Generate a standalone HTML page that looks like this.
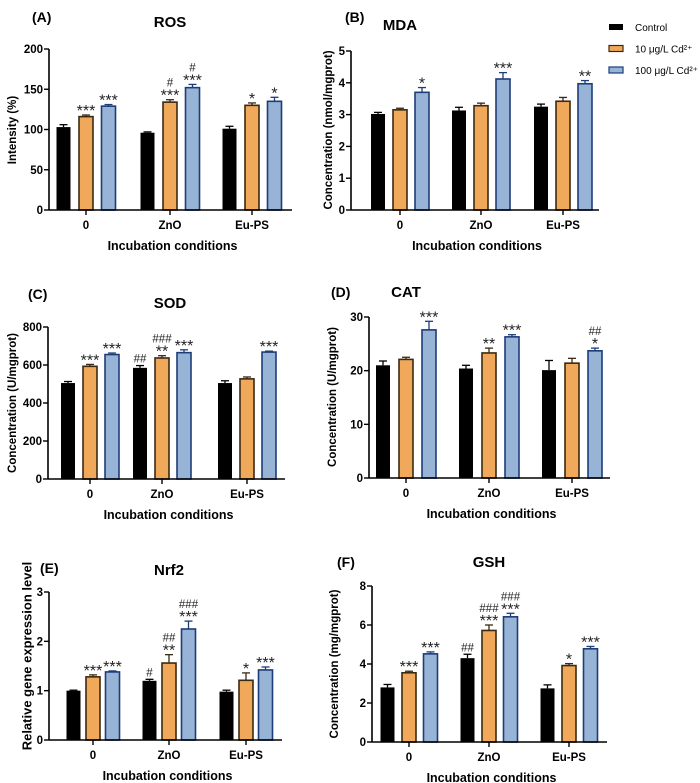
<!DOCTYPE html>
<html><head><meta charset="utf-8"><style>
body{margin:0;background:#fff}
svg{display:block;font-family:"Liberation Sans",Arial,sans-serif}
</style></head><body>
<svg id="fig" width="700" height="783" viewBox="0 0 700 783"></svg>
<script>
const categories=['0','ZnO','Eu-PS'];
const seriesNames=['Control','10 μg/L Cd²⁺','100 μg/L Cd²⁺'];
// A ROS
const rosCtrl=[103,96,101], rosCtrlErr=[3,1,3];
const ros10=[116,134,130], ros10Err=[2,3,3];
const ros100=[129,152,135], ros100Err=[2,4,5];
const rosAnn=[['','',''],['***','#|***','*'],['***','#|***','*']];
// B MDA
const mdaCtrl=[3.02,3.13,3.25], mdaCtrlErr=[0.05,0.1,0.08];
const mda10=[3.15,3.28,3.42], mda10Err=[0.05,0.08,0.12];
const mda100=[3.7,4.12,3.97], mda100Err=[0.15,0.2,0.1];
const mdaAnn=[['','',''],['','',''],['*','***','**']];
// C SOD
const sodCtrl=[505,585,505], sodCtrlErr=[8,12,12];
const sod10=[593,637,527], sod10Err=[10,12,10];
const sod100=[655,665,668], sod100Err=[8,15,5];
const sodAnn=[['','##',''],['***','###|**',''],['***','***','***']];
// D CAT
const catCtrl=[21,20.4,20.1], catCtrlErr=[0.8,0.6,1.8];
const cat10=[22.1,23.3,21.4], cat10Err=[0.4,0.9,0.9];
const cat100=[27.6,26.3,23.7], cat100Err=[1.6,0.4,0.5];
const catAnn=[['','',''],['','**',''],['***','***','##|*']];
// E Nrf2
const nrfCtrl=[1.0,1.2,0.98], nrfCtrlErr=[0.01,0.03,0.03];
const nrf10=[1.28,1.56,1.21], nrf10Err=[0.04,0.17,0.15];
const nrf100=[1.38,2.25,1.42], nrf100Err=[0.02,0.16,0.06];
const nrfAnn=[['','#',''],['***','##|**','*'],['***','###|***','***']];
// F GSH
const gshCtrl=[2.8,4.3,2.75], gshCtrlErr=[0.15,0.2,0.18];
const gsh10=[3.55,5.72,3.92], gsh10Err=[0.08,0.28,0.1];
const gsh100=[4.52,6.42,4.78], gsh100Err=[0.1,0.18,0.12];
const gshAnn=[['','##',''],['***','###|***','*'],['***','###|***','***']];
const yTicksROS=[0,50,100,150,200], yTicksMDA=[0,1,2,3,4,5], yTicksSOD=[0,200,400,600,800];
const yTicksCAT=[0,10,20,30], yTicksNRF=[0,1,2,3], yTicksGSH=[0,2,4,6,8];

const NS='http://www.w3.org/2000/svg';
const svg=document.getElementById('fig');
function mk(tag,attrs,parent,text){const e=document.createElementNS(NS,tag);for(const k in attrs)e.setAttribute(k,attrs[k]);if(text!==undefined)e.textContent=text;(parent||svg).appendChild(e);return e;}
const fills=['#000000','#F0A85A','#97B3D6'];
const strokes=['#000000','#3b2a12','#1d3d78'];

const panels=[
 {id:'ros',lab:'(A)',lx:32,ly:22,title:'ROS',tx:170,ty:27,x0:49,x1:292,yT:49,yB:210,ticks:yTicksROS,centers:[86,170,252],off:22.5,ytitle:'Intensity (%)',ytx:13,ytc:130,yfs:11.5,vals:[rosCtrl,ros10,ros100],errs:[rosCtrlErr,ros10Err,ros100Err],ann:rosAnn},
 {id:'mda',lab:'(B)',lx:345,ly:22,title:'MDA',tx:400,ty:30,x0:351,x1:599,yT:51,yB:210,ticks:yTicksMDA,centers:[400,481,563],off:22,ytitle:'Concentration  (nmol/mgprot)',ytx:329,ytc:130,yfs:11.5,vals:[mdaCtrl,mda10,mda100],errs:[mdaCtrlErr,mda10Err,mda100Err],ann:mdaAnn},
 {id:'sod',lab:'(C)',lx:28,ly:299,title:'SOD',tx:170,ty:308,x0:48,x1:285,yT:327,yB:479,ticks:yTicksSOD,centers:[90,162,247],off:22,ytitle:'Concentration  (U/mgprot)',ytx:13,ytc:403,yfs:11.5,vals:[sodCtrl,sod10,sod100],errs:[sodCtrlErr,sod10Err,sod100Err],ann:sodAnn},
 {id:'cat',lab:'(D)',lx:331,ly:297,title:'CAT',tx:406,ty:297,x0:369,x1:610,yT:317,yB:478,ticks:yTicksCAT,centers:[406,489,572],off:23,ytitle:'Concentration  (U/mgprot)',ytx:333,ytc:397,yfs:11.5,vals:[catCtrl,cat10,cat100],errs:[catCtrlErr,cat10Err,cat100Err],ann:catAnn},
 {id:'nrf2',lab:'(E)',lx:40,ly:573,title:'Nrf2',tx:169,ty:575,x0:49,x1:282,yT:592,yB:740,ticks:yTicksNRF,centers:[93,169,246],off:19.5,ytitle:'Relative gene expression level',ytx:27,ytc:656,yfs:13,vals:[nrfCtrl,nrf10,nrf100],errs:[nrfCtrlErr,nrf10Err,nrf100Err],ann:nrfAnn},
 {id:'gsh',lab:'(F)',lx:337,ly:567,title:'GSH',tx:489,ty:567,x0:372,x1:607,yT:586,yB:742,ticks:yTicksGSH,centers:[409,489,569],off:21.5,ytitle:'Concentration  (mg/mgprot)',ytx:335,ytc:664,yfs:11.5,vals:[gshCtrl,gsh10,gsh100],errs:[gshCtrlErr,gsh10Err,gsh100Err],ann:gshAnn}
];

panels.forEach(p=>{
 const g=mk('g',{});
 
 
 const ymax=p.ticks[p.ticks.length-1];
 const y=v=>p.yB-(v/ymax)*(p.yB-p.yT);
 let t=mk('text',{x:p.lx,y:p.ly,'font-size':14,'font-weight':'bold'},g,p.lab);
 
 t=mk('text',{x:p.tx,y:p.ty,'font-size':15,'font-weight':'bold','text-anchor':'middle'},g,p.title);
 
 const cy=p.ytc;
 t=mk('text',{x:p.ytx,y:cy,'font-size':p.yfs,'font-weight':'bold','text-anchor':'middle',transform:`rotate(-90 ${p.ytx} ${cy})`,'dominant-baseline':'central'},g,p.ytitle);
 
 for(let s=0;s<3;s++){for(let c=0;c<3;c++){
  const cx=p.centers[c]+(s-1)*p.off, w=14, v=p.vals[s][c], e=p.errs[s][c];
  const top=y(v), et=y(v+e);
  const el=mk('line',{x1:cx,x2:cx,y1:top,y2:et,stroke:strokes[s],'stroke-width':1.3},g);
  
  const cap=mk('line',{x1:cx-4,x2:cx+4,y1:et,y2:et,stroke:strokes[s],'stroke-width':1.3},g);
  
  const r=mk('rect',{x:cx-w/2,y:top,width:w,height:p.yB-top,fill:fills[s],stroke:strokes[s],'stroke-width':s?1.6:0},g);
  
  
  const a=p.ann[s][c];
  if(a){const lines=a.split('|');let yy=et-3;
   for(let i=lines.length-1;i>=0;i--){const L=lines[i];const star=L[0]==='*';
    const tt=mk('text',{x:cx,y:star?yy+4:yy,'font-size':star?16:11.5,'text-anchor':'middle','letter-spacing':'0',fill:'#222'},g,L);
    
    yy-=star?10:12;}
  }
 }}
 let ax=mk('line',{x1:p.x0,x2:p.x0,y1:p.yT,y2:p.yB,stroke:'#000','stroke-width':1.6},g);
 
 ax=mk('line',{x1:p.x0,x2:p.x1,y1:p.yB,y2:p.yB,stroke:'#000','stroke-width':1.6},g);
 
 p.ticks.forEach(v=>{
  const tk=mk('line',{x1:p.x0-5,x2:p.x0,y1:y(v),y2:y(v),stroke:'#000','stroke-width':1.4},g);
  
  const tl=mk('text',{x:p.x0-6,y:y(v)+4,'font-size':11.5,'font-weight':'bold','text-anchor':'end'},g,String(v));
  
 });
 categories.forEach((c,i)=>{
  const tk=mk('line',{x1:p.centers[i],x2:p.centers[i],y1:p.yB,y2:p.yB+5,stroke:'#000','stroke-width':1.4},g);
  
  const tl=mk('text',{x:p.centers[i],y:p.yB+19,'font-size':11.5,'font-weight':'bold','text-anchor':'middle'},g,c);
  
 });
 const xt=mk('text',{x:(p.x0+p.x1)/2+2,y:p.yB+40,'font-size':12.5,'font-weight':'bold','text-anchor':'middle'},g,'Incubation conditions');
 
});
const lg=mk('g',{});


seriesNames.forEach((n,i)=>{
 const yy=27+i*21.5;
 const r=mk('rect',{x:609,y:yy-3,width:14,height:6,fill:fills[i],stroke:strokes[i],'stroke-width':i?1.2:0},lg);
 
 const t=mk('text',{x:635,y:yy+4,'font-size':10},lg,n);
 
});
</script>
</body></html>
